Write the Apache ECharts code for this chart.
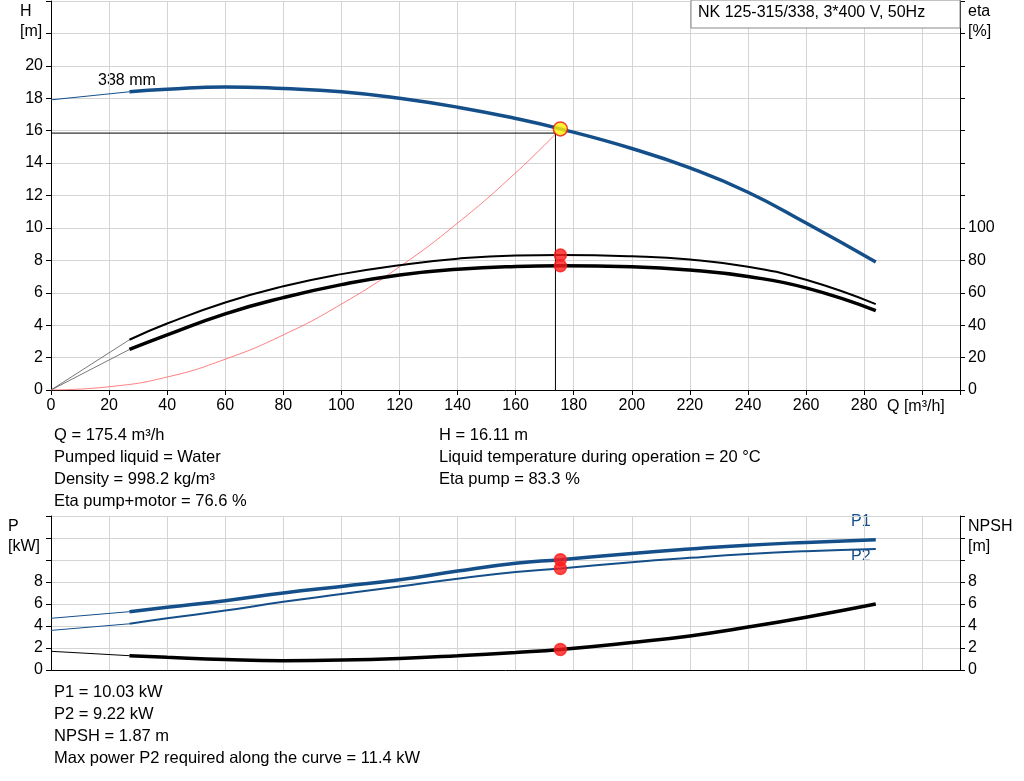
<!DOCTYPE html><html><head><meta charset="utf-8"><script src="https://cdn.jsdelivr.net/npm/echarts@6/dist/echarts.min.js"></script>
<style>body{margin:0}#c{width:1024px;height:781px}</style></head><body><div id="c"></div><script>
const Q = [27,40,60,80,100,120,140,160,175.4,200,220,240,260,284];
const H = [18.4,18.55,18.7,18.6,18.4,18.0,17.45,16.75,16.11,14.9,13.7,12.2,10.3,7.9];
const etaPump = [31,41,54,64,71.5,77,81,83,83.3,82.5,80.5,76,68,53];
const etaTot = [25,34,47,57,65,71,74.5,76.2,76.6,76,74,70,63,49];
const sysQ = [0,20,40,60,80,100,120,140,160,174];
const sysH = [0,0.2,0.8,1.9,3.4,5.3,7.6,10.3,13.4,15.85];
const P1 = [5.3,5.7,6.3,7.0,7.6,8.2,9.0,9.7,10.03,10.6,11.0,11.35,11.6,11.85];
const P2 = [4.2,4.7,5.4,6.2,6.9,7.6,8.3,8.9,9.22,9.8,10.2,10.55,10.8,11.0];
const NPSH = [1.3,1.15,0.95,0.85,0.9,1.05,1.3,1.6,1.87,2.5,3.1,3.9,4.8,6.0];
const startVals = {H:17.9, P1:4.7, P2:3.6, NPSH:1.7};
const op = {Q:175.4, H:16.11, etaPump:83.3, etaTot:76.6, P1:10.03, P2:9.22, NPSH:1.87, lineQ:173.7, lineH:15.85};
const z = (a)=>Q.map((q,i)=>[q,a[i]]);
const F = 'Liberation Sans, Arial, sans-serif';
const BLUE='#154f8a';
const ax = {fontFamily:F,fontSize:16,color:'#000'};
const grid = {show:true,lineStyle:{color:'#d4d4d4'}};
const c = echarts.init(document.getElementById('c'));
function xa(i,show){return {type:'value',gridIndex:i,min:0,max:313,interval:20,axisLine:{show:true,onZero:false,lineStyle:{color:'#000'}},axisTick:{show:show,lineStyle:{color:'#000'}},splitLine:grid,
 axisLabel:{show:show,...ax,formatter:v=>v<=280?v:''}};}
function ya(i,max,lim,pos,sl){return {type:'value',gridIndex:i,position:pos,min:0,max:max,interval:max===240?20:2,axisLine:{show:true,lineStyle:{color:'#000'}},axisTick:{show:true,lineStyle:{color:'#000'},length:5},splitLine:sl?grid:{show:false},
 axisLabel:{...ax,formatter:v=>v<=lim?v:''}};}
const thin=(x,y,a,b,col,w)=>({type:'line',xAxisIndex:x,yAxisIndex:y,data:[a,b],symbol:'none',lineStyle:{color:col,width:w},z:2});
const thick=(x,y,d,col,w)=>({type:'line',xAxisIndex:x,yAxisIndex:y,data:d,smooth:true,symbol:'none',lineStyle:{color:col,width:w},z:3});
const dot=(x,y,p,col,b,s)=>({type:'scatter',xAxisIndex:x,yAxisIndex:y,data:[p],symbolSize:s||12,itemStyle:{color:col,borderColor:b||col,borderWidth:1.5},z:5});
c.setOption({animation:false,
grid:[{left:51,right:64,top:1,height:389},{left:51,right:64,top:516,height:154}],
xAxis:[xa(0,true),xa(1,false)],
yAxis:[ya(0,24,20,'left',true),ya(0,240,100,'right',false),ya(1,14,8,'left',true),ya(1,14,8,'right',false)],
series:[
 thin(0,0,[0,startVals.H],[27,H[0]],BLUE,1),
 thick(0,0,z(H),BLUE,3.5),
 thin(1,2,[0,startVals.P1],[27,P1[0]],BLUE,1),
 thin(1,2,[0,startVals.P2],[27,P2[0]],BLUE,1),
 thin(1,3,[0,startVals.NPSH],[27,NPSH[0]],'#000',1),
 thin(0,1,[0,0],[27,etaPump[0]],'#555',0.8),
 thin(0,1,[0,0],[27,etaTot[0]],'#555',0.8),
 thick(0,1,z(etaPump),'#000',2),
 thick(0,1,z(etaTot),'#000',3.5),
 {type:'line',xAxisIndex:0,yAxisIndex:0,data:sysQ.map((q,i)=>[q,sysH[i]]),smooth:true,symbol:'none',lineStyle:{color:'#ff6060',width:0.8},z:2},
 {type:'line',xAxisIndex:0,yAxisIndex:0,data:[[0,op.lineH],[op.lineQ,op.lineH],[op.lineQ,0]],symbol:'none',lineStyle:{color:'#000',width:1},z:2},
 thick(1,2,z(P1),BLUE,3.5),
 thick(1,2,z(P2),BLUE,2),
 thick(1,3,z(NPSH),'#000',3.5),
 dot(0,0,[op.Q,op.H],'#ffee00','#ee1111',14),
 dot(0,1,[op.Q,op.etaPump],'#ff1a1a'),
 dot(0,1,[op.Q,op.etaTot],'#ff1a1a'),
 dot(1,2,[op.Q,op.P1],'#ff1a1a'),
 dot(1,2,[op.Q,op.P2],'#ff1a1a'),
 dot(1,3,[op.Q,op.NPSH],'#ff1a1a')
],
graphic:[
 {type:'rect',shape:{x:691,y:0,width:269,height:28},style:{fill:'#fff',stroke:'#888'},z:10},
 {type:'text',left:698,top:5,style:{text:'NK 125-315/338, 3*400 V, 50Hz',font:'16px '+F,fill:'#000'},z:11},
 {type:'text',left:20,top:2,style:{text:'H\n[m]',font:'16px '+F,fill:'#000',lineHeight:20},z:11},
 {type:'text',left:968,top:2,style:{text:'eta\n[%]',font:'16px '+F,fill:'#000',lineHeight:20},z:11},
 {type:'text',left:98,top:73,style:{text:'338 mm',font:'16px '+F,fill:'#000'}},
 {type:'text',left:887,top:399,style:{text:'Q [m³/h]',font:'16px '+F,fill:'#000'}},
 {type:'text',left:54,top:424,style:{text:'Q = 175.4 m³/h\nPumped liquid = Water\nDensity = 998.2 kg/m³\nEta pump+motor = 76.6 %',font:'16.5px '+F,fill:'#000',lineHeight:22}},
 {type:'text',left:439,top:424,style:{text:'H = 16.11 m\nLiquid temperature during operation = 20 °C\nEta pump = 83.3 %',font:'16.5px '+F,fill:'#000',lineHeight:22}},
 {type:'text',left:8,top:517,style:{text:'P\n[kW]',font:'16px '+F,fill:'#000',lineHeight:20}},
 {type:'text',left:968,top:517,style:{text:'NPSH\n[m]',font:'16px '+F,fill:'#000',lineHeight:20}},
 {type:'text',left:851,top:514,style:{text:'P1',font:'16px '+F,fill:BLUE}},
 {type:'text',left:851,top:549,style:{text:'P2',font:'16px '+F,fill:BLUE}},
 {type:'text',left:54,top:681,style:{text:'P1 = 10.03 kW\nP2 = 9.22 kW\nNPSH = 1.87 m\nMax power P2 required along the curve = 11.4 kW',font:'16.5px '+F,fill:'#000',lineHeight:22}}
]});
</script></body></html>
